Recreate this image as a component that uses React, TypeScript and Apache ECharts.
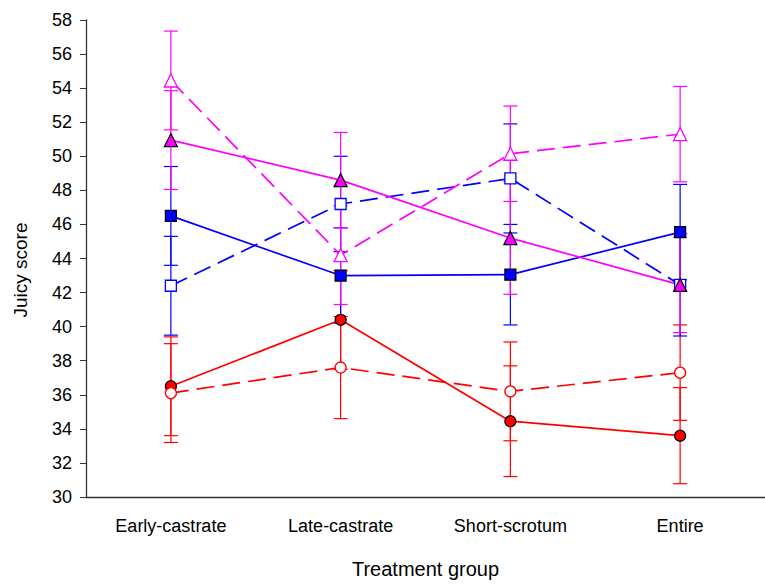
import React, { useEffect, useRef } from "react";
import * as echarts from "echarts";

const categories = ["Early-castrate", "Late-castrate", "Short-scrotum", "Entire"];
const yTicks = { min: 30, max: 58, interval: 2 };

const redSolid = [36.5, 40.4, 34.45, 33.6];
const redSolidErr = [2.9, 2.9, 3.25, 2.82];
const redDashed = [36.1, 37.6, 36.2, 37.3];
const redDashedErr = [2.9, 3.0, 2.9, 2.8];
const blueSolid = [46.5, 43.0, 43.05, 45.55];
const blueSolidErr = [2.9, 2.8, 2.95, 2.8];
const blueDashed = [42.4, 47.2, 48.7, 42.45];
const blueDashedErr = [2.9, 2.8, 3.2, 3.0];
const magSolid = [50.95, 48.6, 45.2, 42.45];
const magSolidErr = [2.9, 2.8, 3.3, 2.8];
const magDashed = [54.45, 44.2, 50.15, 51.3];
const magDashedErr = [2.9, 2.9, 2.8, 2.8];

const RED = "#FF0000";
const BLUE = "#0000FF";
const MAG = "#FF00FF";
const FONT = "Liberation Sans, Arial, sans-serif";

type Spec = {
  name: string;
  values: number[];
  errs: number[];
  color: string;
  dashed: boolean;
  symbol: string;
  size: number;
};

const specs: Spec[] = [
  { name: "redSolid", values: redSolid, errs: redSolidErr, color: RED, dashed: false, symbol: "circle", size: 11 },
  { name: "redDashed", values: redDashed, errs: redDashedErr, color: RED, dashed: true, symbol: "circle", size: 11 },
  { name: "blueSolid", values: blueSolid, errs: blueSolidErr, color: BLUE, dashed: false, symbol: "rect", size: 11 },
  { name: "blueDashed", values: blueDashed, errs: blueDashedErr, color: BLUE, dashed: true, symbol: "rect", size: 11 },
  { name: "magSolid", values: magSolid, errs: magSolidErr, color: MAG, dashed: false, symbol: "triangle", size: 13 },
  { name: "magDashed", values: magDashed, errs: magDashedErr, color: MAG, dashed: true, symbol: "triangle", size: 13 },
];

function errorSeries(s: Spec) {
  return {
    type: "custom",
    name: s.name + "-err",
    z: 1,
    silent: true,
    encode: { x: 0, y: [1, 2] },
    data: s.values.map((v, i) => [i, v - s.errs[i], v + s.errs[i]]),
    renderItem: (params: any, api: any) => {
      const x = api.value(0);
      const lo = api.coord([x, api.value(1)]);
      const hi = api.coord([x, api.value(2)]);
      const w = 7;
      const style = { stroke: s.color, lineWidth: 1.2 };
      return {
        type: "group",
        children: [
          { type: "line", shape: { x1: lo[0], y1: lo[1], x2: hi[0], y2: hi[1] }, style },
          { type: "line", shape: { x1: lo[0] - w, y1: lo[1], x2: lo[0] + w, y2: lo[1] }, style },
          { type: "line", shape: { x1: hi[0] - w, y1: hi[1], x2: hi[0] + w, y2: hi[1] }, style },
        ],
      };
    },
  };
}

function lineSeries(s: Spec) {
  return {
    type: "line",
    name: s.name,
    z: 3,
    data: s.values,
    symbol: s.symbol,
    symbolSize: s.size,
    showAllSymbol: true,
    lineStyle: { color: s.color, width: 1.7, type: s.dashed ? [18, 8] : "solid" },
    itemStyle: s.dashed
      ? { color: "#FFFFFF", borderColor: s.color, borderWidth: 1.3 }
      : { color: s.color, borderColor: "#000000", borderWidth: 1.2 },
  };
}

export default function App() {
  const ref = useRef<HTMLDivElement>(null);
  useEffect(() => {
    if (!ref.current) return;
    const chart = echarts.init(ref.current, null, { renderer: "svg" });
    chart.setOption({
      animation: false,
      backgroundColor: "#FFFFFF",
      grid: { left: 86, top: 20, bottom: 81, right: -12, containLabel: false },
      graphic: [
        {
          type: "text",
          x: 20,
          y: 270,
          rotation: Math.PI / 2,
          style: {
            text: "Juicy score",
            fontFamily: FONT,
            fontSize: 19,
            fill: "#000",
            align: "center",
            verticalAlign: "middle",
          },
        },
      ],
      xAxis: {
        type: "category",
        data: categories,
        boundaryGap: true,
        name: "Treatment group",
        nameLocation: "middle",
        nameGap: 62,
        nameTextStyle: { fontFamily: FONT, fontSize: 20, color: "#000" },
        axisLine: { lineStyle: { color: "#333", width: 1.3 } },
        axisTick: { alignWithLabel: true, length: 6, lineStyle: { color: "#333" } },
        axisLabel: { fontFamily: FONT, fontSize: 18, color: "#000", margin: 20 },
        splitLine: { show: false },
      },
      yAxis: {
        type: "value",
        min: yTicks.min,
        max: yTicks.max,
        interval: yTicks.interval,
        axisLine: { show: true, lineStyle: { color: "#333", width: 1.3 } },
        axisTick: { show: true, length: 6, lineStyle: { color: "#333" } },
        axisLabel: { fontFamily: FONT, fontSize: 18, color: "#000", margin: 14 },
        splitLine: { show: false },
      },
      series: [...specs.map(errorSeries), ...specs.map(lineSeries)],
    });
    return () => chart.dispose();
  }, []);
  return <div ref={ref} style={{ width: 765, height: 584, position: "absolute", left: 0, top: 0 }} />;
}
